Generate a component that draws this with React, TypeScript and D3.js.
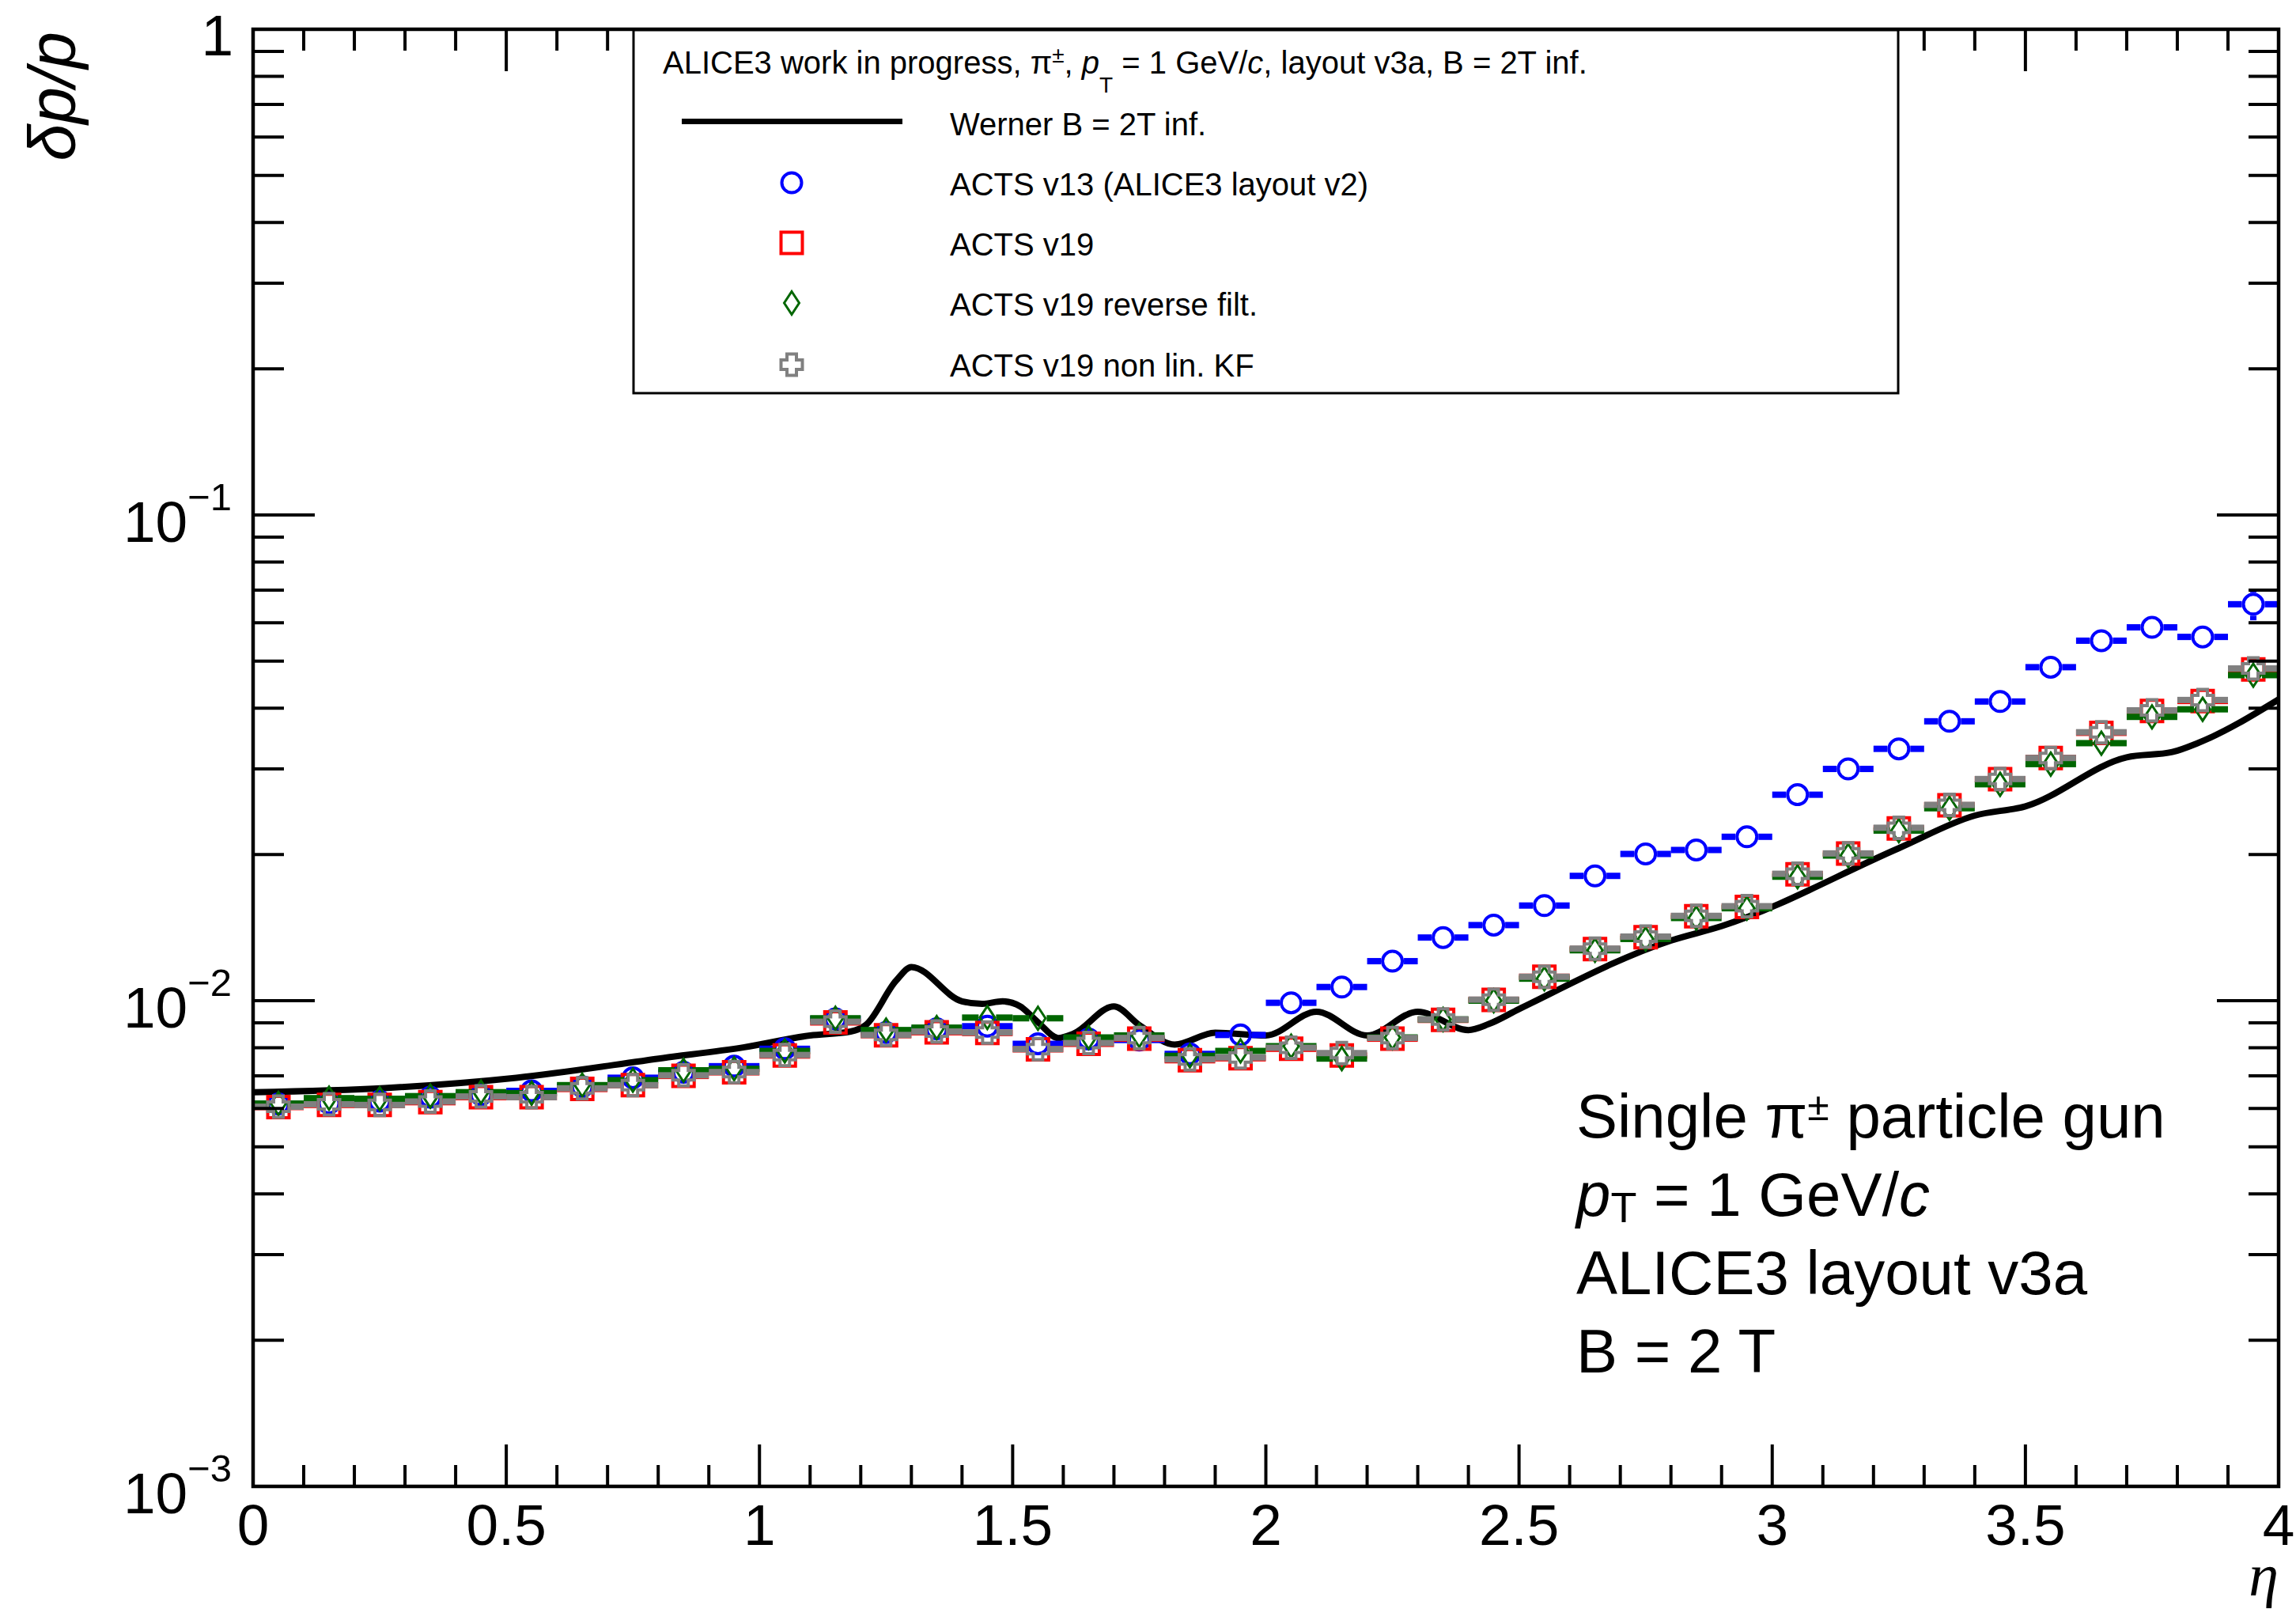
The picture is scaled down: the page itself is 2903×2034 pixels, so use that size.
import React, { useEffect } from 'react';
import * as d3 from 'd3';

const W = 2903;
const H = 2034;

// eta bin centres (bin width 0.1)
const etaBins = [0.05, 0.15, 0.25, 0.35, 0.45, 0.55, 0.65, 0.75, 0.85, 0.95,
  1.05, 1.15, 1.25, 1.35, 1.45, 1.55, 1.65, 1.75, 1.85, 1.95,
  2.05, 2.15, 2.25, 2.35, 2.45, 2.55, 2.65, 2.75, 2.85, 2.95,
  3.05, 3.15, 3.25, 3.35, 3.45, 3.55, 3.65, 3.75, 3.85, 3.95];
const binHalfWidth = 0.05;

const actsV13 = [6.13e-3, 6.15e-3, 6.21e-3, 6.33e-3, 6.40e-3, 6.52e-3, 6.65e-3, 6.94e-3, 7.12e-3, 7.33e-3,
  7.96e-3, 9.17e-3, 8.60e-3, 8.75e-3, 8.86e-3, 8.15e-3, 8.34e-3, 8.30e-3, 7.77e-3, 8.50e-3,
  9.90e-3, 1.067e-2, 1.206e-2, 1.349e-2, 1.431e-2, 1.570e-2, 1.807e-2, 2.005e-2, 2.043e-2, 2.175e-2,
  2.655e-2, 3.00e-2, 3.30e-2, 3.76e-2, 4.13e-2, 4.86e-2, 5.51e-2, 5.87e-2, 5.61e-2, 6.55e-2];
const actsV13Err = [0, 0, 0, 0, 0, 0, 0, 0, 0, 0,
  0, 0, 0, 0, 0, 0, 0, 0, 0, 0,
  0, 0, 0, 0, 0, 0, 0, 0, 0, 0,
  0, 0, 0, 0, 0, 0, 0, 0, 0, 4.8e-3];

const actsV19 = [6.04e-3, 6.10e-3, 6.10e-3, 6.18e-3, 6.33e-3, 6.33e-3, 6.58e-3, 6.70e-3, 7.00e-3, 7.12e-3,
  7.71e-3, 9.02e-3, 8.49e-3, 8.61e-3, 8.58e-3, 7.94e-3, 8.15e-3, 8.35e-3, 7.54e-3, 7.61e-3,
  7.96e-3, 7.71e-3, 8.35e-3, 9.13e-3, 1.004e-2, 1.12e-2, 1.277e-2, 1.351e-2, 1.493e-2, 1.56e-2,
  1.821e-2, 2.008e-2, 2.263e-2, 2.526e-2, 2.858e-2, 3.16e-2, 3.56e-2, 3.95e-2, 4.14e-2, 4.81e-2];

const actsV19Reverse = [6.14e-3, 6.30e-3, 6.28e-3, 6.36e-3, 6.48e-3, 6.45e-3, 6.70e-3, 6.86e-3, 7.19e-3, 7.24e-3,
  7.88e-3, 9.20e-3, 8.70e-3, 8.80e-3, 9.23e-3, 9.20e-3, 8.40e-3, 8.48e-3, 7.70e-3, 7.88e-3,
  8.06e-3, 7.60e-3, 8.40e-3, 9.15e-3, 1.00e-2, 1.11e-2, 1.27e-2, 1.34e-2, 1.48e-2, 1.55e-2,
  1.80e-2, 1.99e-2, 2.24e-2, 2.49e-2, 2.79e-2, 3.07e-2, 3.39e-2, 3.84e-2, 3.98e-2, 4.68e-2];

const actsV19NonLin = [6.05e-3, 6.12e-3, 6.10e-3, 6.20e-3, 6.35e-3, 6.33e-3, 6.60e-3, 6.70e-3, 7.02e-3, 7.13e-3,
  7.73e-3, 9.05e-3, 8.50e-3, 8.64e-3, 8.60e-3, 7.95e-3, 8.18e-3, 8.38e-3, 7.57e-3, 7.64e-3,
  8.00e-3, 7.80e-3, 8.38e-3, 9.15e-3, 1.005e-2, 1.12e-2, 1.28e-2, 1.355e-2, 1.495e-2, 1.565e-2,
  1.825e-2, 2.01e-2, 2.27e-2, 2.53e-2, 2.86e-2, 3.16e-2, 3.57e-2, 3.96e-2, 4.16e-2, 4.83e-2];

// Werner analytic curve
const wernerEta = [0.0, 0.26, 0.52, 0.81, 0.97, 1.10, 1.18, 1.21, 1.27, 1.30,
  1.40, 1.44, 1.48, 1.515, 1.55, 1.59, 1.62, 1.70, 1.75, 1.82,
  1.90, 2.00, 2.10, 2.20, 2.30, 2.40, 2.44, 2.50, 2.80, 2.90,
  3.25, 3.40, 3.50, 3.70, 3.79, 3.84, 4.00];
const wernerVal = [6.48e-3, 6.61e-3, 6.94e-3, 7.62e-3, 8.02e-3, 8.48e-3, 8.64e-3, 8.91e-3, 1.10e-2, 1.173e-2,
  9.97e-3, 9.85e-3, 9.97e-3, 9.73e-3, 9.03e-3, 8.38e-3, 8.55e-3, 9.73e-3, 8.91e-3, 8.12e-3,
  8.59e-3, 8.48e-3, 9.49e-3, 8.48e-3, 9.49e-3, 8.70e-3, 8.95e-3, 9.61e-3, 1.33e-2, 1.424e-2,
  2.06e-2, 2.405e-2, 2.513e-2, 3.17e-2, 3.25e-2, 3.39e-2, 4.17e-2];

const xMajorTicks = [0, 0.5, 1, 1.5, 2, 2.5, 3, 3.5, 4];
const xTickLabels = ['0', '0.5', '1', '1.5', '2', '2.5', '3', '3.5', '4'];
const yDecades = [1, 0.1, 0.01, 0.001];
const yDecadeExp = ['0', '−1', '−2', '−3'];
const yMinorMultipliers = [2, 3, 4, 5, 6, 7, 8, 9];
const yMinorDecades = [0.001, 0.01, 0.1];

const legendTitle = 'ALICE3 work in progress';
const legendLabels = ['Werner B = 2T inf.', 'ACTS v13 (ALICE3 layout v2)', 'ACTS v19', 'ACTS v19 reverse filt.', 'ACTS v19 non lin. KF'];

const FONT = '"Liberation Sans", Arial, Helvetica, sans-serif';

const BLUE = '#0000ff';
const RED = '#ff0000';
const GREEN = '#006600';
const GRAY = '#808080';

const frame = { left: 320, right: 2881, top: 37, bottom: 1879 };

type Kind = 'circle' | 'square' | 'diamond' | 'cross';

function markerPath(kind: Kind): string {
  if (kind === 'square') {
    const s = 13.5;
    return `M${-s},${-s}L${s},${-s}L${s},${s}L${-s},${s}Z`;
  }
  if (kind === 'diamond') {
    const h = 14.5, w = 9.5;
    return `M0,${-h}L${w},0L0,${h}L${-w},0Z`;
  }
  if (kind === 'cross') {
    const s = 13.5, a = 6;
    return `M${-a},${-s}L${a},${-s}L${a},${-a}L${s},${-a}L${s},${a}L${a},${a}L${a},${s}L${-a},${s}L${-a},${a}L${-s},${a}L${-s},${-a}L${-a},${-a}Z`;
  }
  return '';
}

function Marker({ kind, cx, cy, color }: { kind: Kind; cx: number; cy: number; color: string }) {
  if (kind === 'circle') {
    return <circle cx={cx} cy={cy} r={12.5} fill="none" stroke={color} strokeWidth={4} />;
  }
  return (
    <path d={markerPath(kind)} transform={`translate(${cx},${cy})`} fill="none" stroke={color}
      strokeWidth={kind === 'diamond' ? 3 : 4} strokeLinejoin="miter" />
  );
}

const gapOf: Record<Kind, number> = { circle: 14.5, square: 15.5, diamond: 11, cross: 15.5 };

export default function App() {
  useEffect(() => {
    document.body.style.margin = '0';
    document.body.style.overflow = 'hidden';
  }, []);

  const x = d3.scaleLinear().domain([0, 4]).range([frame.left, frame.right]);
  const y = d3.scaleLog().domain([1e-3, 1]).range([frame.bottom, frame.top]);

  const line = d3.line<number>()
    .x((_, i) => x(wernerEta[i]))
    .y((v) => y(v))
    .curve(d3.curveMonotoneX);

  const series: { vals: number[]; err?: number[]; kind: Kind; color: string }[] = [
    { vals: actsV13, err: actsV13Err, kind: 'circle', color: BLUE },
    { vals: actsV19, kind: 'square', color: RED },
    { vals: actsV19Reverse, kind: 'diamond', color: GREEN },
    { vals: actsV19NonLin, kind: 'cross', color: GRAY },
  ];

  const xMinor: number[] = d3.range(0, 41).map((i) => i / 10).filter((v) => Math.abs(v * 2 - Math.round(v * 2)) > 1e-6);

  const yMinor: number[] = [];
  yMinorDecades.forEach((d) => yMinorMultipliers.forEach((m) => yMinor.push(d * m)));

  const tickW = 4;

  return (
    <svg width={W} height={H} style={{ position: 'absolute', left: 0, top: 0, background: '#fff' }}
      xmlns="http://www.w3.org/2000/svg">
      <rect x={0} y={0} width={W} height={H} fill="#fff" />
      <defs>
        <clipPath id="plotclip">
          <rect x={frame.left} y={frame.top} width={frame.right - frame.left} height={frame.bottom - frame.top} />
        </clipPath>
      </defs>

      {/* Werner curve */}
      <g clipPath="url(#plotclip)">
        <path d={line(wernerVal) || ''} fill="none" stroke="#000" strokeWidth={8} strokeLinejoin="round" />
      </g>

      {/* data series */}
      {series.map((s, si) => (
        <g key={si}>
          {etaBins.map((eta, i) => {
            const cx = x(eta);
            const cy = y(s.vals[i]);
            const xl = x(eta - binHalfWidth);
            const xr = x(eta + binHalfWidth);
            const g = gapOf[s.kind];
            const e = s.err ? s.err[i] : 0;
            return (
              <g key={i}>
                <line x1={xl} x2={cx - g} y1={cy} y2={cy} stroke={s.color} strokeWidth={8} />
                <line x1={cx + g} x2={xr} y1={cy} y2={cy} stroke={s.color} strokeWidth={8} />
                {e > 0 && y(s.vals[i] + e) < cy - g && (
                  <line x1={cx} x2={cx} y1={y(s.vals[i] + e)} y2={cy - g} stroke={s.color} strokeWidth={8} />
                )}
                {e > 0 && y(s.vals[i] - e) > cy + g && (
                  <line x1={cx} x2={cx} y1={cy + g} y2={y(s.vals[i] - e)} stroke={s.color} strokeWidth={8} />
                )}
                <Marker kind={s.kind} cx={cx} cy={cy} color={s.color} />
              </g>
            );
          })}
        </g>
      ))}

      {/* ticks */}
      <g stroke="#000" strokeWidth={tickW}>
        {xMajorTicks.map((t) => (
          <g key={'xm' + t}>
            <line x1={x(t)} x2={x(t)} y1={frame.bottom} y2={frame.bottom - 53} />
            <line x1={x(t)} x2={x(t)} y1={frame.top} y2={frame.top + 53} />
          </g>
        ))}
        {xMinor.map((t) => (
          <g key={'xn' + t}>
            <line x1={x(t)} x2={x(t)} y1={frame.bottom} y2={frame.bottom - 27} />
            <line x1={x(t)} x2={x(t)} y1={frame.top} y2={frame.top + 27} />
          </g>
        ))}
        {yDecades.map((d) => (
          <g key={'yd' + d}>
            <line x1={frame.left} x2={frame.left + 78} y1={y(d)} y2={y(d)} />
            <line x1={frame.right} x2={frame.right - 78} y1={y(d)} y2={y(d)} />
          </g>
        ))}
        {yMinor.map((d) => (
          <g key={'yn' + d}>
            <line x1={frame.left} x2={frame.left + 39} y1={y(d)} y2={y(d)} />
            <line x1={frame.right} x2={frame.right - 38} y1={y(d)} y2={y(d)} />
          </g>
        ))}
      </g>

      {/* frame */}
      <rect x={frame.left} y={frame.top} width={frame.right - frame.left} height={frame.bottom - frame.top}
        fill="none" stroke="#000" strokeWidth={4.5} />

      {/* x tick labels */}
      <g fontFamily={FONT} fontSize={73} fill="#000" textAnchor="middle">
        {xMajorTicks.map((t, i) => (
          <text key={'xl' + t} x={x(t)} y={1953}>{xTickLabels[i]}</text>
        ))}
      </g>

      {/* y tick labels */}
      <g fontFamily={FONT} fill="#000" textAnchor="end">
        {yDecades.map((d, i) => (
          i === 0 ? (
            <text key={'yl' + d} x={295} y={y(d) + 33} fontSize={73}>1</text>
          ) : (
            <text key={'yl' + d} x={293} y={y(d) + 34} fontSize={73}>
              10<tspan fontSize={49} dy={-40}>{yDecadeExp[i]}</tspan>
            </text>
          )
        ))}
      </g>

      {/* axis titles */}
      <text transform="translate(95,40) rotate(-90)" textAnchor="end" fontFamily={FONT} fontSize={84} fontStyle="italic">
        δp/p
      </text>
      <text x={2881} y={2017} textAnchor="end" fontFamily='"Liberation Serif", "DejaVu Serif", serif' fontSize={76} fontStyle="italic">
        η
      </text>

      {/* legend */}
      <rect x={801} y={38} width={1599} height={459} fill="#fff" stroke="#000" strokeWidth={3} />
      <g fontFamily={FONT} fontSize={40} fill="#000">
        <text x={838} y={93}>
          {legendTitle}, π<tspan fontSize={28} dy={-14}>±</tspan><tspan dy={14}>, </tspan>
          <tspan fontStyle="italic">p</tspan><tspan fontSize={28} dy={24}>T</tspan>
          <tspan dy={-24}> = 1 GeV/</tspan><tspan fontStyle="italic">c</tspan>
          <tspan>, layout v3a, B = 2T inf.</tspan>
        </text>
        <line x1={862} x2={1141} y1={153.5} y2={153.5} stroke="#000" strokeWidth={7} />
        <text x={1201} y={171}>{legendLabels[0]}</text>
        <Marker kind="circle" cx={1001} cy={231} color={BLUE} />
        <text x={1201} y={247}>{legendLabels[1]}</text>
        <Marker kind="square" cx={1001} cy={307} color={RED} />
        <text x={1201} y={323}>{legendLabels[2]}</text>
        <Marker kind="diamond" cx={1001} cy={383} color={GREEN} />
        <text x={1201} y={399}>{legendLabels[3]}</text>
        <Marker kind="cross" cx={1001} cy={461} color={GRAY} />
        <text x={1201} y={476}>{legendLabels[4]}</text>
      </g>

      {/* annotation */}
      <g fontFamily={FONT} fontSize={78} fill="#000">
        <text x={1993} y={1438}>
          Single π<tspan fontSize={50} dy={-22}>±</tspan><tspan dy={22}> particle gun</tspan>
        </text>
        <text x={1993} y={1537}>
          <tspan fontStyle="italic">p</tspan><tspan fontSize={54} dy={8}>T</tspan>
          <tspan dy={-8}> = 1 GeV/</tspan><tspan fontStyle="italic">c</tspan>
        </text>
        <text x={1993} y={1636}>ALICE3 layout v3a</text>
        <text x={1993} y={1735}>B = 2 T</text>
      </g>
    </svg>
  );
}
